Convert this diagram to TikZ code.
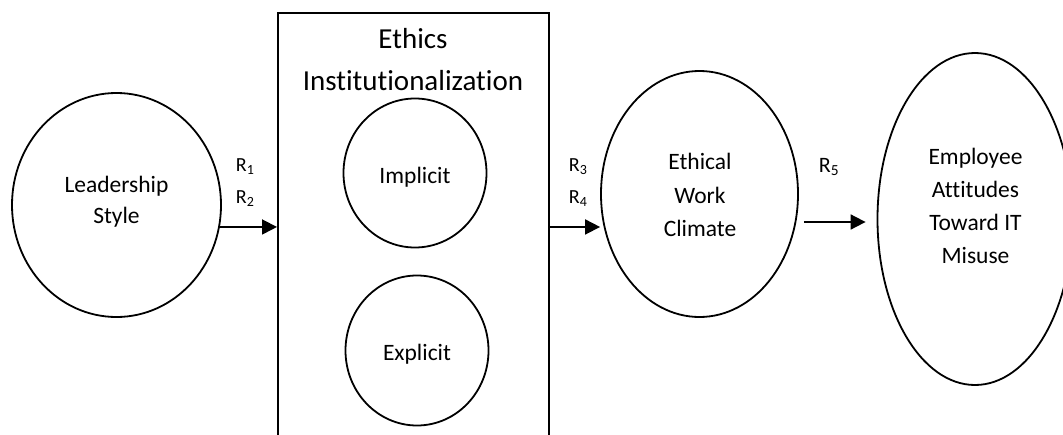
\documentclass[tikz,border=0pt]{standalone}
\usepackage{fontspec}
\setmainfont{Carlito}[Ligatures=NoCommon]
\usetikzlibrary{shapes.geometric,arrows.meta}
\begin{document}
\begin{tikzpicture}[x=1pt,y=-1pt,
  line width=1.8pt,
  oval/.style={ellipse, draw, inner sep=0pt},
  txt/.style={inner sep=0pt, align=center, font=\fontsize{23.5pt}{33pt}\selectfont},
  rlab/.style={inner sep=0pt, anchor=base west, font=\fontsize{20pt}{24pt}\selectfont},
  arr/.style={-{Triangle[length=15pt,width=15pt]}}]
\useasboundingbox (0,0) rectangle (1063,434);
\clip (0,0) rectangle (1063,434);
% shapes
\node[oval, minimum width=209pt, minimum height=224pt] (lead) at (116.5,205) {};
\node[draw, inner sep=0pt, minimum width=271pt, minimum height=460pt, anchor=north west] (box) at (277,12) {};
\node[oval, minimum width=143pt, minimum height=149pt] (imp) at (415,173) {};
\node[oval, minimum width=143pt, minimum height=150pt] (exp) at (417,350.5) {};
\node[oval, minimum width=197pt, minimum height=246pt] (ewc) at (699.5,194) {};
\node[oval, minimum width=195pt, minimum height=332pt] (emp) at (975,219) {};
% texts
\node[txt, font=\fontsize{23.5pt}{31pt}\selectfont] (tlead) at (116.5,202) {Leadership\\Style};
\node[inner sep=0pt, align=center, font=\fontsize{29pt}{42pt}\selectfont] (tbox) at (413,60) {Ethics\\Institutionalization};
\node[txt] (timp) at (415,177) {Implicit};
\node[txt] (texp) at (417,354) {Explicit};
\node[txt, font=\fontsize{23.5pt}{33.5pt}\selectfont] (tewc) at (700,195) {Ethical\\Work\\Climate};
\node[txt] (temp) at (975.5,206) {Employee\\Attitudes\\Toward IT\\Misuse};
% labels
\node[rlab] (r1) at (235,171) {R\textsubscript{1}};
\node[rlab] (r2) at (235,203) {R\textsubscript{2}};
\node[rlab] (r3) at (568,171) {R\textsubscript{3}};
\node[rlab] (r4) at (568,203) {R\textsubscript{4}};
\node[rlab, font=\fontsize{22pt}{26pt}\selectfont] (r5) at (818,172) {R\textsubscript{5}};
% connectors
\coordinate (r5line) at (0,222);
\draw[arr] (lead.-12) -- (lead.-12 -| box.west);
\draw[arr] (box.east |- lead.-12) -- (ewc.west |- lead.-12);
\draw[arr, shorten <=5pt, shorten >=11pt] (ewc.east |- r5line) -- (emp.west |- r5line);
\end{tikzpicture}
\end{document}
